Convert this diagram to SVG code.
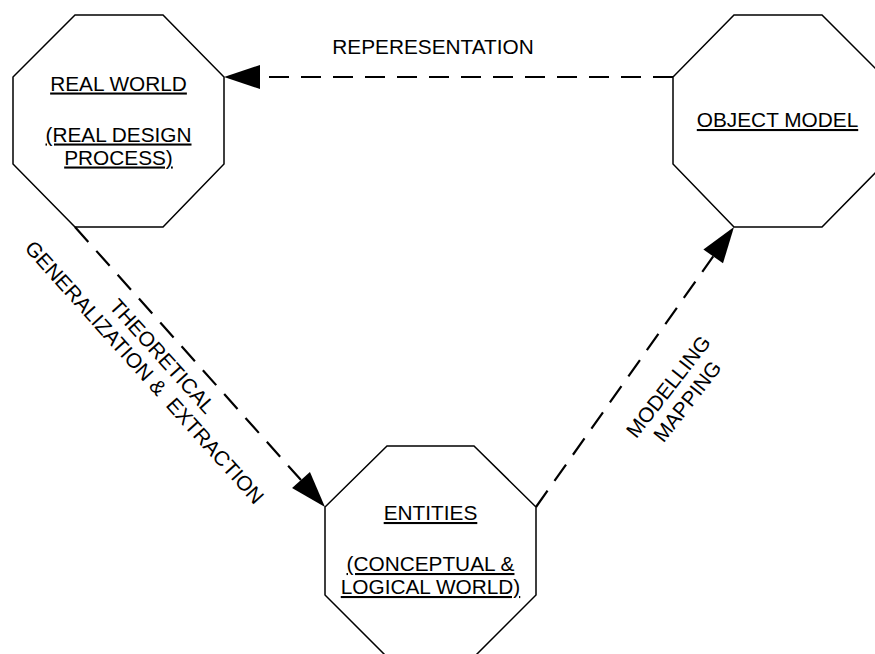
<svg xmlns="http://www.w3.org/2000/svg" width="875" height="654" viewBox="0 0 875 654">
  <style>
    .node { fill: #ffffff; stroke: #000000; stroke-width: 1.5; stroke-linejoin: miter; }
    .title { font-family: "Liberation Sans", Arial, sans-serif; font-size: 20.8px; fill: #000000; text-anchor: middle; text-decoration: underline; }
    .label { font-family: "Liberation Sans", Arial, sans-serif; font-size: 20.8px; fill: #000000; text-anchor: middle; }
    .link { fill: none; stroke: #000000; stroke-width: 2.2; stroke-dasharray: 20 12; marker-end: url(#head); }
  </style>
  <defs>
    <!-- filled arrowhead; its base sits on the line end, tip points onward -->
    <marker id="head" markerUnits="userSpaceOnUse" markerWidth="36" markerHeight="24" viewBox="0 -12 36 24" refX="0" refY="0" orient="auto" overflow="visible">
      <path d="M0,-12 L36,0 L0,12 Z" fill="#000000"/>
    </marker>
  </defs>
  <rect width="875" height="654" fill="#ffffff"/>

  <g id="real-world">
    <polygon class="node" points="75,15 163,15 224,77 224,164 163,227 75,227 13,164 13,77"/>
    <text class="title" x="118.5" y="90.5">REAL WORLD</text>
    <text class="title" x="118.5" y="141.5">(REAL DESIGN</text>
    <text class="title" x="118.5" y="164.5">PROCESS)</text>
  </g>

  <g id="object-model">
    <polygon class="node" points="734,15 822,15 884,77 884,164 822,227 734,227 673,164 673,77"/>
    <text class="title" x="777.5" y="127">OBJECT MODEL</text>
  </g>

  <g id="entities">
    <polygon class="node" points="387,446 474,446 536,507 536,595 474,657 387,657 325,595 325,507"/>
    <text class="title" x="430.5" y="520">ENTITIES</text>
    <text class="title" x="430.5" y="571">(CONCEPTUAL &amp;</text>
    <text class="title" x="430.5" y="594">LOGICAL WORLD)</text>
  </g>

  <g id="connectors">
    <path class="link" d="M673,77 L260,77"/>
    <path class="link" d="M75,227 L301,480.1"/>
    <path class="link" d="M536,507 L713.2,256.4"/>
  </g>

  <g id="connector-labels">
    <text class="label" x="433" y="54">REPERESENTATION</text>
    <g transform="translate(157,361) rotate(48)">
      <text class="label" x="0" y="0">THEORETICAL</text>
      <text class="label" x="0" y="24" xml:space="preserve">GENERALIZATION &amp;  EXTRACTION</text>
    </g>
    <g transform="translate(674,391) rotate(-52)">
      <text class="label" x="0" y="0">MODELLING</text>
      <text class="label" x="0" y="24">MAPPING</text>
    </g>
  </g>
</svg>
